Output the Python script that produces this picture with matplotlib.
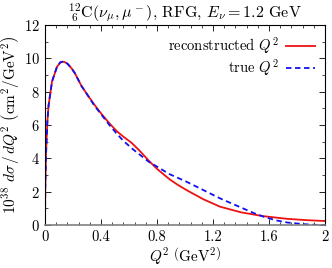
import numpy as np
import matplotlib.pyplot as plt
from matplotlib.ticker import MultipleLocator

plt.rcParams['font.family'] = 'serif'
plt.rcParams['font.serif'] = ['cmr10']
plt.rcParams['mathtext.fontset'] = 'cm'
plt.rcParams['axes.formatter.use_mathtext'] = True

# reconstructed Q^2 (red solid)
q_rec = [0.0, 0.002, 0.007, 0.017, 0.026, 0.05, 0.086, 0.11, 0.135, 0.16, 0.19,
         0.214, 0.26, 0.3, 0.35, 0.4, 0.46, 0.51, 0.56, 0.62, 0.68, 0.74,
         0.8, 0.89, 0.95, 1.01, 1.13, 1.25, 1.4, 1.56, 1.73, 1.87, 2.0]
xs_rec = [0.0, 2.2, 4.2, 6.2, 7.2, 8.6, 9.5, 9.75, 9.8, 9.68, 9.4,
          9.1, 8.35, 7.85, 7.25, 6.7, 6.1, 5.65, 5.3, 4.92, 4.42, 3.87,
          3.37, 2.74, 2.4, 2.1, 1.55, 1.1, 0.76, 0.53, 0.37, 0.29, 0.24]

# true Q^2 (blue dashed)
q_true = [0.0, 0.002, 0.007, 0.017, 0.026, 0.05, 0.086, 0.11, 0.135, 0.16, 0.19,
          0.214, 0.26, 0.3, 0.35, 0.4, 0.46, 0.51, 0.56, 0.62, 0.68, 0.74,
          0.8, 0.89, 1.01, 1.13, 1.25, 1.32, 1.4, 1.49, 1.56, 1.65, 1.73,
          1.85, 1.93, 2.0]
xs_true = [0.0, 2.2, 4.2, 6.2, 7.2, 8.6, 9.5, 9.77, 9.82, 9.68, 9.4,
           9.1, 8.35, 7.85, 7.2, 6.65, 6.0, 5.5, 5.05, 4.6, 4.2, 3.8,
           3.5, 3.05, 2.6, 2.1, 1.6, 1.34, 1.05, 0.72, 0.5, 0.28, 0.15,
           0.05, 0.01, 0.0]

fig = plt.figure(figsize=(3.32, 2.68), dpi=100)
ax = fig.add_axes([0.1355, 0.1604, 0.8435, 0.7463])

ax.plot(q_rec, xs_rec, color='#ee1111', lw=1.3, label=r'reconstructed $Q^2$')
ax.plot(q_true, xs_true, color='#1111ee', lw=1.3, ls=(0, (3, 2)), label=r'true $Q^2$')

ax.set_xlim(0, 2)
ax.set_ylim(0, 12)
ax.xaxis.set_minor_locator(MultipleLocator(0.08))
ax.yaxis.set_major_locator(MultipleLocator(2))
ax.yaxis.set_minor_locator(MultipleLocator(1))
ax.set_xticks([0, 0.4, 0.8, 1.2, 1.6, 2.0])
ax.set_xticklabels(['0', '0.4', '0.8', '1.2', '1.6', '2'])
ax.tick_params(which='both', direction='in', top=True, right=True, labelsize=10.5)
ax.tick_params(which='major', length=4, width=0.6)
ax.tick_params(which='minor', length=2, width=0.5)
for s in ax.spines.values():
    s.set_linewidth(0.8)
ax.spines['bottom'].set_color('#808080')
ax.spines['bottom'].set_linewidth(1.2)

ax.set_xlabel(r'$Q^2\ \left(\mathrm{GeV}^2\right)$', fontsize=11, labelpad=1)
ax.set_ylabel(r'$10^{38}\ d\sigma\,/\,dQ^2\ \left(\mathrm{cm}^2/\mathrm{GeV}^2\right)$',
              fontsize=11, labelpad=2)
ax.set_title(r'$^{12}_{\ 6}\mathrm{C}(\nu_\mu,\mu^-)$, RFG, $E_\nu = 1.2$ GeV',
             fontsize=11.5, pad=3)

ax.legend(loc='upper right', frameon=False, markerfirst=False, fontsize=10.5,
          handlelength=2.0, labelspacing=0.1, borderaxespad=0.3, handletextpad=0.5)

fig.savefig('out.png', dpi=100)
